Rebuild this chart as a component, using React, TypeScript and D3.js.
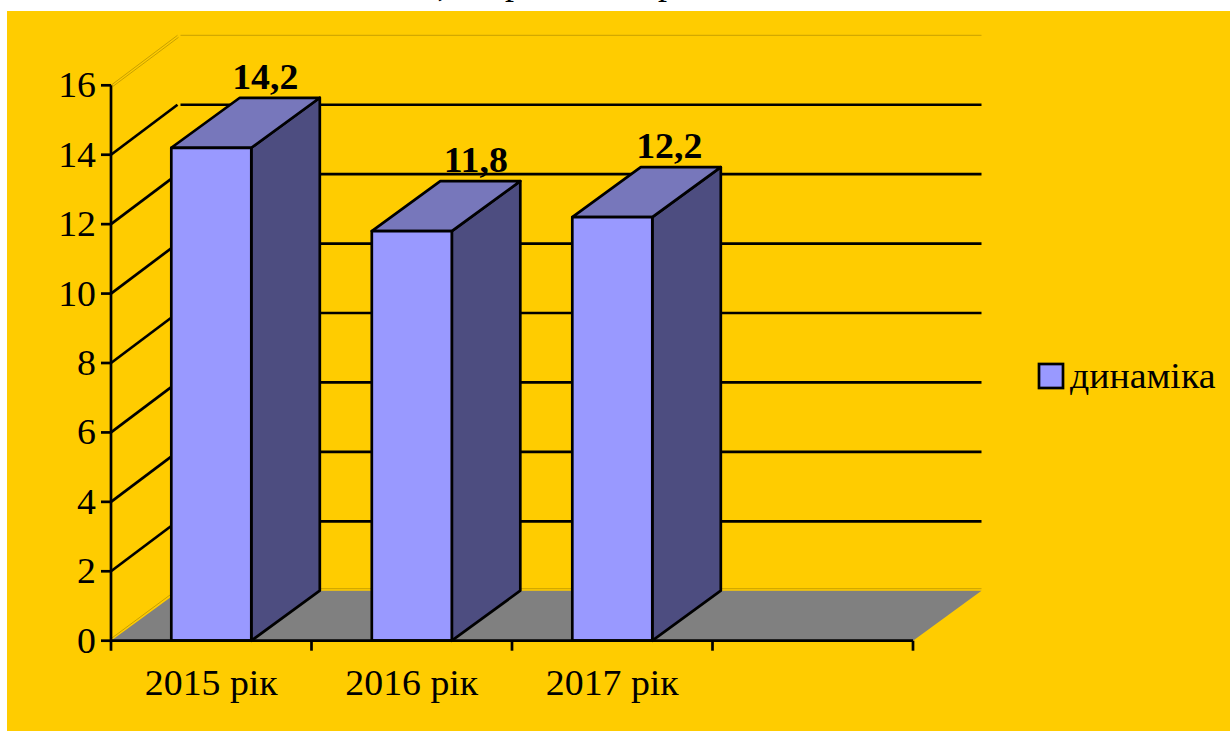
import React from 'react';
import * as d3 from 'd3';

const categories = ['2015 рік', '2016 рік', '2017 рік', ''];
const seriesName = 'динаміка';
const seriesValues = [14.2, 11.8, 12.2];
const valueLabels = ['14,2', '11,8', '12,2'];
const yTicks = [0, 2, 4, 6, 8, 10, 12, 14, 16];
// descenders of the cropped title, the only part of it left in the picture
const titleGlyphs = [',', 'р', 'р'];
const titleGlyphX = [442, 514, 667];

const WIDTH = 1230;
const HEIGHT = 731;
const FONT = '"Liberation Serif", "Times New Roman", serif';

const depthX = 68.5;
const depthY = -50;
const barInset = 60.3;
const barWidth = 80;
const labelNudge = [54, 64, 57];
const strokeW = 2.7;

const x = d3.scaleBand<string>().domain(categories.map((c, i) => c || `slot${i}`)).range([111, 913]);
const y = d3.scaleLinear().domain([0, 16]).range([640.7, 85.3]);

const poly = d3.line<[number, number]>().curve(d3.curveLinearClosed);
const seg = d3.line<[number, number]>();

// the reference text is about 5% wider than the font's own proportions
const WideText = ({ x, y, anchor = 'start', bold = false, children }: any) => (
  <text
    transform={`translate(${x},${y}) scale(1.05,1)`}
    fontSize={36}
    fontWeight={bold ? 'bold' : 'normal'}
    textAnchor={anchor}
    fill="#000"
  >
    {children}
  </text>
);

const App = () => {
  const x0 = x.range()[0];
  const x1 = x.range()[1];
  const yBase = y(0);

  return (
    <svg width={WIDTH} height={HEIGHT} style={{ position: 'absolute', left: 0, top: 0, display: 'block' }} fontFamily={FONT}>
      <rect width={WIDTH} height={HEIGHT} fill="#fff" />
      {titleGlyphs.map((g, i) => (
        <text key={i} x={titleGlyphX[i]} y={i === 0 ? -4 : -6} fontSize={36} textAnchor="middle" fill="#000">{g}</text>
      ))}
      <rect x={7} y={11} width={WIDTH - 7} height={HEIGHT - 11} fill="#ffcc00" />

      {/* floor */}
      <path
        d={poly([[x0, yBase], [x0 + depthX, yBase + depthY], [x1 + depthX, yBase + depthY], [x1, yBase]]) || ''}
        fill="#808080"
      />
      <path d={seg([[x0 + depthX, yBase + depthY - 2], [x1 + depthX, yBase + depthY - 2]]) || ''} stroke="#c8a000" strokeWidth={1} fill="none" />
      <path d={seg([[x0, yBase - 2], [x0 + depthX - 1, yBase + depthY - 2]]) || ''} stroke="#c8a000" strokeWidth={1} fill="none" />

      {/* walls */}
      {yTicks.slice(1).map(t => {
        const top = t === 16;
        const stroke = top ? '#c8a000' : '#000';
        const sw = top ? 1 : strokeW;
        return (
          <g key={t} fill="none" stroke={stroke} strokeWidth={sw}>
            <path d={seg([[x0, y(t)], [x0 + depthX - 2, y(t) + depthY]]) || ''} />
            {top && <path d={seg([[x0 + 2, y(t) + 1], [x0 + depthX - 1, y(t) + depthY + 2]]) || ''} />}
            <path d={seg([[x0 + depthX + 1, y(t) + depthY], [x1 + depthX, y(t) + depthY]]) || ''} />
          </g>
        );
      })}

      {/* bars */}
      {seriesValues.map((v, i) => {
        const bx = (x(categories[i]) as number) + barInset;
        const bx2 = bx + barWidth;
        const top = y(v);
        return (
          <g key={i} stroke="#000" strokeWidth={strokeW} strokeLinejoin="round">
            <path
              d={poly([[bx2, top], [bx2 + depthX, top + depthY], [bx2 + depthX, yBase + depthY], [bx2, yBase]]) || ''}
              fill="#4d4d80"
            />
            <path
              d={poly([[bx, top], [bx + depthX, top + depthY], [bx2 + depthX, top + depthY], [bx2, top]]) || ''}
              fill="#7777bb"
            />
            <rect x={bx} y={top} width={barWidth} height={yBase - top} fill="#9999ff" />
          </g>
        );
      })}

      {/* axes */}
      <g stroke="#000" strokeWidth={strokeW} fill="none">
        <path d={seg([[x0, y(16)], [x0, yBase + 10]]) || ''} />
        <path d={seg([[x0, yBase], [x1, yBase]]) || ''} />
        {yTicks.map(t => (
          <path key={t} d={seg([[x0 - 10, y(t)], [x0, y(t)]]) || ''} />
        ))}
        {categories.map((c, i) => {
          const tx = x0 + x.step() * (i + 1);
          return <path key={i} d={seg([[tx, yBase], [tx, yBase + 10]]) || ''} />;
        })}
      </g>

      {yTicks.map(t => (
        <WideText key={t} x={96} y={y(t) + 12} anchor="end">{t}</WideText>
      ))}
      {categories.filter(Boolean).map(c => (
        <WideText key={c} x={(x(c) as number) + x.bandwidth() / 2} y={695} anchor="middle">{c}</WideText>
      ))}
      {seriesValues.map((v, i) => (
        <WideText
          key={i}
          x={(x(categories[i]) as number) + barInset + barWidth / 2 + labelNudge[i]}
          y={y(v) + depthY - 9}
          anchor="middle"
          bold
        >
          {valueLabels[i]}
        </WideText>
      ))}

      {/* legend */}
      <rect x={1039} y={364} width={24} height={24} fill="#9999ff" stroke="#000" strokeWidth={strokeW} />
      <WideText x={1070} y={388}>{seriesName}</WideText>
    </svg>
  );
};

export default App;
